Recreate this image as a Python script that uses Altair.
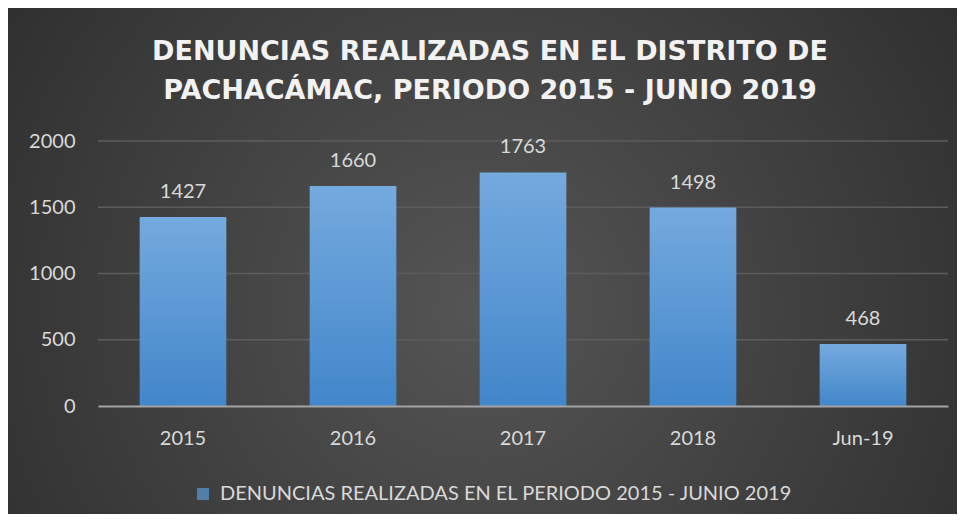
import altair as alt
import pandas as pd

categories = ["2015", "2016", "2017", "2018", "Jun-19"]
values = [1427, 1660, 1763, 1498, 468]
y_ticks = [0, 500, 1000, 1500, 2000]
title_lines = ["DENUNCIAS REALIZADAS EN EL DISTRITO DE",
               "PACHACÁMAC, PERIODO 2015 - JUNIO 2019"]
series_name = "DENUNCIAS REALIZADAS EN EL PERIODO 2015 - JUNIO 2019"

df = pd.DataFrame({"cat": categories, "val": values})
grid_df = pd.DataFrame({"val": y_ticks[1:]})

W, H = 850, 265
PL, PT, PR, PB = 90, 133, 9, 108
FONT = "Lato"
LBL = "#d9d9d9"
FS = 20

bg = alt.Chart(alt.Data(values=[{}])).mark_rect(
    fill=alt.Gradient(
        gradient="radial",
        x1=0.5, y1=0.55, r1=0,
        x2=0.5, y2=0.55, r2=0.72,
        stops=[alt.GradientStop(offset=0, color="#555555"),
               alt.GradientStop(offset=1, color="#282828")],
    )
).encode(
    x=alt.value(-PL), x2=alt.value(W + PR),
    y=alt.value(-PT), y2=alt.value(H + PB),
)

y_scale = alt.Scale(domain=[0, 2000], nice=False)

grid = alt.Chart(grid_df).mark_rule(color="#5c5c5c", strokeWidth=1.5).encode(
    y=alt.Y("val:Q", scale=y_scale, title=None)
)

x_enc = alt.X("cat:N", sort=categories, title=None,
              scale=alt.Scale(paddingInner=0.49, paddingOuter=0.245),
              axis=alt.Axis(labelAngle=0, labelFontSize=FS, labelColor=LBL,
                            labelFont=FONT, labelPadding=22, ticks=False,
                            domain=True, domainColor="#a3a3a3", domainWidth=2,
                            grid=False, zindex=1))
y_enc = alt.Y("val:Q", title=None, scale=y_scale,
              axis=alt.Axis(values=y_ticks, format="d", labelFontSize=FS,
                            labelColor=LBL, labelFont=FONT, labelPadding=23,
                            ticks=False, domain=False, grid=False, zindex=1))

bars = alt.Chart(df).mark_bar(
    fill=alt.Gradient(
        gradient="linear", x1=0, y1=0, x2=0, y2=1,
        stops=[alt.GradientStop(offset=0, color="#74aade"),
               alt.GradientStop(offset=1, color="#4286ca")],
    )
).encode(x=x_enc, y=y_enc)

labels = alt.Chart(df).mark_text(
    baseline="alphabetic", dy=-19, fontSize=FS, color=LBL, font=FONT
).encode(x=alt.X("cat:N", sort=categories), y="val:Q", text="val:Q")

legend_layer = alt.Chart(alt.Data(values=[])).mark_square().encode(
    color=alt.ColorDatum(series_name, type="nominal", title=None),
)

chart = alt.layer(bg, grid, bars, labels, legend_layer).properties(
    width=W, height=H,
    autosize=alt.AutoSizeParams(type="none"),
    padding={"left": PL, "top": PT, "right": PR, "bottom": PB},
    background="#2a2a2a",
    title=alt.TitleParams(
        text=title_lines, font="DejaVu Sans", fontSize=27, fontWeight="bold",
        color="#f2f2f2", anchor="middle", dx=-33,
        baseline="bottom", offset=-124, lineHeight=39,
    ),
).configure_view(stroke=None).configure_range(
    category=["#5b9bd5"]
).configure_legend(
    orient="none", legendX=95, legendY=343,
    symbolType="square", symbolSize=144, symbolStrokeWidth=0,
    labelFontSize=FS, labelColor=LBL, labelFont=FONT, labelLimit=0,
    labelOffset=7, padding=0, titleFontSize=0,
)

chart.save("out.html", embed_options={"renderer": "svg", "actions": False})
